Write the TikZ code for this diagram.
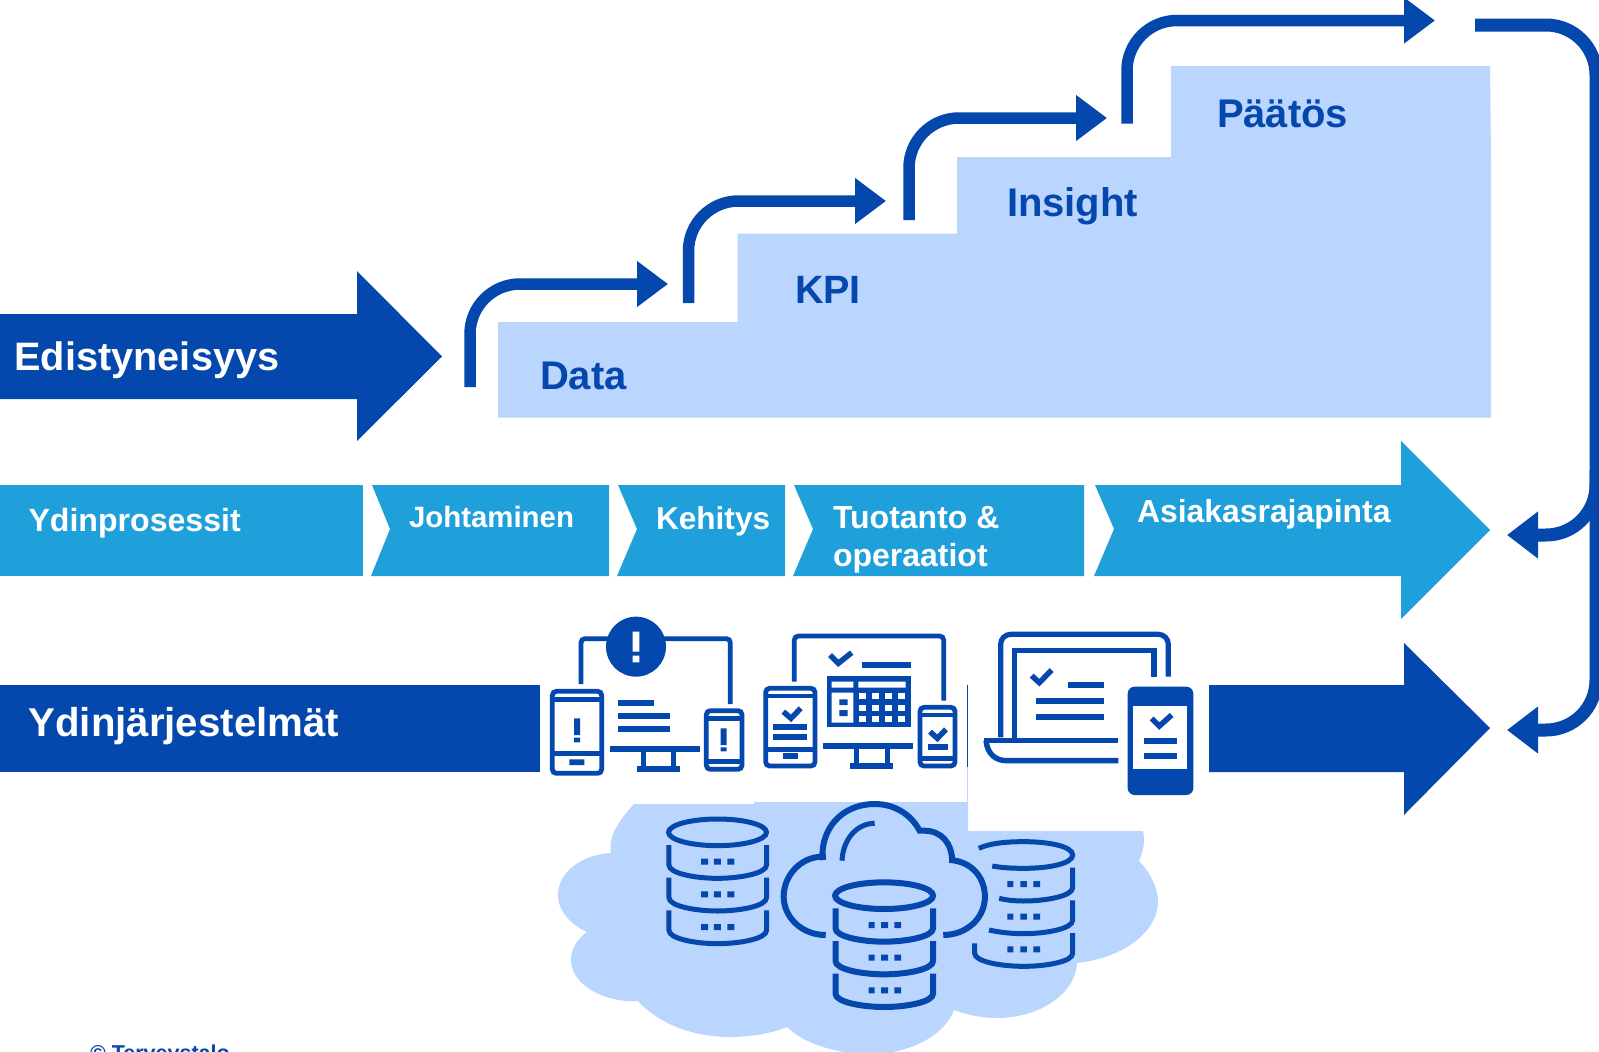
\documentclass[tikz,border=0pt]{standalone}
\usepackage{fontspec}
\setmainfont{Liberation Sans}
\usetikzlibrary{arrows.meta}
\definecolor{dk}{HTML}{0447AD}
\definecolor{lt}{HTML}{BAD5FE}
\definecolor{md}{HTML}{20A0DA}
\tikzset{
  lab/.style={inner sep=0pt,outer sep=0pt,anchor=west,align=left,font=\bfseries\fontsize{#1}{38}\selectfont},
  stepline/.style={draw=dk,line width=11.5pt,rounded corners=50pt,-{Triangle[length=31pt,width=44pt]}},
  backline/.style={draw=dk,line width=13pt,rounded corners=50pt,-{Triangle[length=31pt,width=45pt]}},
  ic/.style={draw=dk,line width=4.8pt,rounded corners=4pt},
  bar/.style={draw=dk,line width=6pt},
  chk/.style={draw=dk,line width=5.5pt,miter limit=10},
  db/.style={draw=dk,line width=5pt},
  dbb/.style={draw=dk,line width=6pt},
  icon1/.style={xshift=530pt,yshift=-610pt,x=0.33333pt,y=-0.33333pt},
  icon2/.style={xshift=960pt,yshift=-610pt,x=0.33333pt,y=-0.33333pt},
  icon3/.style={xshift=540pt,yshift=-790pt,x=0.40816pt,y=-0.33333pt}
}
\begin{document}
\begin{tikzpicture}[x=1pt,y=-1pt]
\clip (0,0) rectangle (1599,1052);
\fill[white] (0,0) rectangle (1599,1052);
% steps
\fill[lt] (498,417.5) |- (737.5,322) |- (957,233.5) |- (1171,157) |- (1490,66) -- (1491,157) -- (1491,417.5) -- cycle;
% Edistyneisyys arrow
\fill[dk] (0,314) -- (357,314) -- (357,271) -- (442,356.5) -- (357,441) -- (357,399) -- (0,399) -- cycle;
% stair arrows
\draw[stepline] (470,387) |- (668,284);
\draw[stepline] (688.5,303) |- (886,201);
\draw[stepline] (909,220) |- (1107,118);
\draw[stepline] (1127,123.5) |- (1435,20.5);
% return arrows
\draw[backline] (1475,25) -- (1596,25) -- (1596,535) -- (1507,535);
\draw[backline] (1596,470) -- (1596,730) -- (1507,730);
% process chain
\fill[md] (0,485) rectangle (363,575.5);
\fill[md] (372,485) -- (609,485) -- (609,576) -- (371,576) -- (390,529) -- cycle;
\fill[md] (618,485) -- (785,485) -- (785,576) -- (617,576) -- (637,529) -- cycle;
\fill[md] (794,485) -- (1084,485) -- (1084,576) -- (793,576) -- (813,529) -- cycle;
\fill[md] (1095,485) -- (1401,485) -- (1401,441) -- (1490,530) -- (1401,619) -- (1401,576) -- (1094,576) -- (1114,529) -- cycle;
% core systems bars
\fill[dk] (0,685) rectangle (540,772);
\fill[dk] (1209,685) -- (1404,685) -- (1404,643) -- (1490,728) -- (1404,815) -- (1404,772) -- (1209,772) -- cycle;
\fill[dk] (967,685) rectangle (968,767);
\fill[lt] (967,767) rectangle (968,802);
% cloud
\fill[lt] (634,804) .. controls (620,820) and (608,835) .. (611,853)
  .. controls (580,855) and (558,873) .. (558,895)
  .. controls (558,912) and (572,925) .. (587,932)
  .. controls (576,940) and (571,950) .. (571,960)
  .. controls (571,985) and (605,1003) .. (638,1001)
  .. controls (660,1025) and (695,1037) .. (730,1037)
  .. controls (752,1037) and (772,1033) .. (787,1027)
  .. controls (805,1045) and (840,1054) .. (870,1054)
  .. controls (910,1054) and (945,1035) .. (954,1010)
  .. controls (968,1015) and (982,1018) .. (997,1018)
  .. controls (1040,1018) and (1076,993) .. (1077,963)
  .. controls (1125,958) and (1158,930) .. (1158,902)
  .. controls (1158,888) and (1150,872) .. (1139,861)
  .. controls (1144,850) and (1145,840) .. (1143,831)
  -- (968,831) -- (968,802) -- (754,802) -- (754,804) -- cycle;
% icon group 1
\begin{scope}[icon1]
\draw[ic] (153,222) -- (153,86) -- (601,86) -- (601,282);
\fill[dk] (318,110) circle (30pt);
\fill[white] (308,65) rectangle (328,125) (308,137) rectangle (328,157);
\draw[ic] (67,244) rectangle (215,490);
\draw[bar,line width=4.5pt] (67,268) -- (215,268) (67,430) -- (215,430);
\fill[dk] (118,448) rectangle (163,465) (132,325) rectangle (150,375) (132,383) rectangle (150,397);
\draw[bar] (265,280) -- (372,280) (265,318) -- (420,318) (265,356) -- (420,356) (240,418) -- (510,418) (320,477) -- (450,477);
\draw[bar,line width=5pt] (340,418) -- (340,477) (430,418) -- (430,477);
\draw[ic] (529,302) rectangle (636,478);
\draw[bar,line width=4.5pt] (529,325) -- (636,325) (529,455) -- (636,455);
\fill[dk] (572,355) rectangle (590,405) (572,412) rectangle (590,424);
% icon group 2
\draw[ic] (793,215) -- (793,78) -- (1241,78) -- (1241,272);
\draw[chk] (900,135) -- (925,160) -- (965,128);
\draw[bar] (995,165) -- (1143,165);
\fill[dk] (892,198) rectangle (1142,352);
\fill[white] (905,215) rectangle (970,233) (985,215) rectangle (1127,233) (905,248) rectangle (970,338);
\fill[dk] (928,268) rectangle (953,285) (928,300) rectangle (953,318);
\foreach \px in {987,1025,1064,1103} \foreach \py in {250,285,318}
  \fill[white] (\px,\py) rectangle ++(22,17);
\draw[ic] (707,235) rectangle (855,468);
\draw[bar,line width=4.5pt] (707,258) -- (855,258) (707,418) -- (855,418);
\draw[chk] (760,305) -- (783,325) -- (812,295);
\draw[bar] (730,352) -- (832,352) (730,380) -- (832,380) (758,438) -- (803,438);
\draw[bar] (880,408) -- (1150,408) (960,467) -- (1090,467);
\draw[bar,line width=5pt] (980,408) -- (980,467) (1072,408) -- (1072,467);
\draw[ic] (1170,292) rectangle (1275,468);
\draw[bar,line width=4.5pt] (1170,315) -- (1275,315) (1170,445) -- (1275,445);
\draw[chk] (1200,365) -- (1222,385) -- (1248,358);
\draw[bar] (1193,410) -- (1253,410);
\end{scope}
% icon group 3
\begin{scope}[icon2]
\draw[ic,line width=5.2pt,rounded corners=10pt] (122,382) -- (122,73) -- (625,73) -- (625,200);
\draw[draw=dk,line width=5.2pt] (163,385) -- (163,122) -- (582,122) -- (582,200);
\draw[draw=dk,line width=5.4pt] (72,392) -- (475,392);
\draw[draw=dk,line width=5.4pt] (78,392) .. controls (82,430) and (105,452) .. (140,452) -- (475,452);
\draw[chk] (215,197) -- (238,218) -- (275,180);
\draw[bar] (325,224) -- (432,224) (227,273) -- (432,273) (227,322) -- (432,322);
\fill[dk,rounded corners=7pt] (503,230) rectangle (700,555);
\fill[white] (520,288) rectangle (682,478);
\draw[chk] (575,325) -- (598,348) -- (635,315);
\draw[bar] (552,392) -- (650,392) (552,438) -- (650,438);
\end{scope}
% databases
\begin{scope}[icon3]
\draw[db] (435,127) ellipse [x radius=120,y radius=40];
\foreach \yy in {0,98,196} {
  \draw[db] (316,165+\yy) -- (316,225+\yy) .. controls (316,250+\yy) and (380,265+\yy) .. (435,265+\yy) .. controls (490,265+\yy) and (555,250+\yy) .. (555,225+\yy) -- (555,165+\yy);
  \fill[dk] (395,206+\yy) rectangle (412,224+\yy) (426,206+\yy) rectangle (443,224+\yy) (459,206+\yy) rectangle (476,224+\yy);
}
% cloud outline
\draw[dbb] (700,200) -- (692,200) .. controls (640,200) and (597,255) .. (597,320) .. controls (597,380) and (640,435) .. (700,435);
\draw[dbb] (694,210) -- (692,190) .. controls (695,100) and (750,42) .. (820,42) .. controls (870,42) and (910,75) .. (930,122) -- (940,122) .. controls (985,122) and (1010,160) .. (1010,218);
\draw[dbb] (1005,210) .. controls (1060,215) and (1090,265) .. (1090,320) .. controls (1090,385) and (1045,435) .. (988,435);
\draw[db] (740,212) .. controls (742,150) and (775,100) .. (820,100);
% centre stack
\begin{scope}[shift={(408,190)}]
\draw[dbb] (435,127) ellipse [x radius=120,y radius=40];
\foreach \yy in {0,98,196} {
  \draw[dbb] (316,165+\yy) -- (316,225+\yy) .. controls (316,250+\yy) and (380,265+\yy) .. (435,265+\yy) .. controls (490,265+\yy) and (555,250+\yy) .. (555,225+\yy) -- (555,165+\yy);
  \fill[dk] (397,206+\yy) rectangle (412,224+\yy) (428,206+\yy) rectangle (445,224+\yy) (460,206+\yy) rectangle (477,224+\yy);
}
\end{scope}
% right stack with gaps
\draw[db] (1075,175) .. controls (1105,158) and (1150,155) .. (1185,155) .. controls (1250,155) and (1305,170) .. (1305,195) .. controls (1305,220) and (1250,235) .. (1185,235) .. controls (1155,235) and (1130,233) .. (1108,228);
\draw[db] (1305,233) -- (1305,293) .. controls (1305,318) and (1240,333) .. (1185,333) .. controls (1165,333) and (1145,331) .. (1125,325);
\draw[db] (1305,331) -- (1305,391) .. controls (1305,416) and (1240,431) .. (1185,431) .. controls (1155,431) and (1125,427) .. (1100,420);
\draw[db] (1065,460) -- (1065,490) .. controls (1065,515) and (1130,529) .. (1185,529) .. controls (1240,529) and (1305,515) .. (1305,490) -- (1305,429);
\foreach \yy in {0,98,196}
  \fill[dk] (1145,273+\yy) rectangle (1160,291+\yy) (1177,273+\yy) rectangle (1193,291+\yy) (1209,273+\yy) rectangle (1225,291+\yy);
\end{scope}
% labels
\node[lab=39.7,text=white] (edist) at (14.5,360) {Edistyneisyys};
\node[lab=40,text=dk] (data) at (540,375.5) {Data};
\node[lab=39.5,text=dk] (kpi) at (795,290) {KPI};
\node[lab=40,text=dk] (insight) at (1007,206.5) {Insight};
\node[lab=40,text=dk] (paatos) at (1217,114) {Päätös};
\node[lab=32.1,text=white] (ydinpro) at (28.5,523) {Ydinprosessit};
\node[lab=29.4,text=white] (johto) at (409,516.5) {Johtaminen};
\node[lab=31.6,text=white] (kehitys) at (656,521) {Kehitys};
\node[lab=32,text=white] (tuotanto) at (833,540) {Tuotanto \&\\operaatiot};
\node[lab=31.9,text=white] (asiakas) at (1137,514) {Asiakasrajapinta};
\node[lab=40.2,text=white] (ydinjar) at (28.5,726) {Ydinjärjestelmät};
\node[lab=21.5,text=dk,anchor=base west] (copy) at (90,1060) {© Terveystalo};
\end{tikzpicture}
\end{document}
